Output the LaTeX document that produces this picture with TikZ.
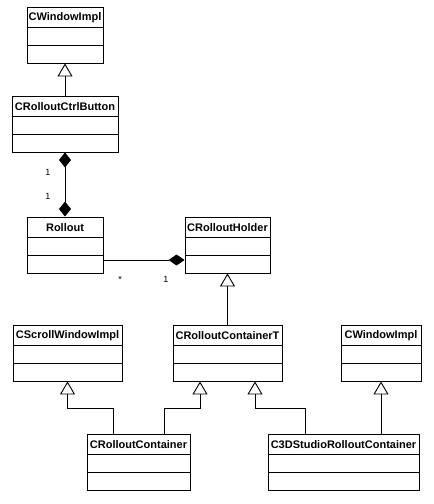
\documentclass[tikz,border=0pt]{standalone}
\usepackage{fontspec}
\setmainfont{Liberation Sans}
\usetikzlibrary{arrows.meta}
\begin{document}
\begin{tikzpicture}[
  x=1pt, y=-1pt,
  cls/.style={draw=black, line width=0.9pt, inner sep=0pt, minimum height=56pt},
  clsname/.style={anchor=north, inner sep=0pt, minimum height=21pt, font=\fontsize{11}{13}\selectfont\bfseries},
  mult/.style={font=\fontsize{9}{11}\selectfont, inner sep=0pt},
  inherit/.style={line width=0.9pt, draw=black, -{Triangle[open, length=13pt, width=15pt]}},
  comp/.style={line width=0.9pt, draw=black}
]
  \useasboundingbox (0,0) rectangle (434,504);

  % Clases
  \foreach \nm/\x/\y/\bw/\txt in {
      winA/65/35/76/CWindowImpl,
      ctrl/65/124/106/CRolloutCtrlButton,
      rollout/65/245/76/Rollout,
      holder/227.5/245/85/CRolloutHolder,
      scroll/67.5/353/109/CScrollWindowImpl,
      contT/227.5/353/109/CRolloutContainerT,
      winB/381/353/80/CWindowImpl,
      cont/138.5/462/103/CRolloutContainer,
      studio/343.5/462/151/C3DStudioRolloutContainer} {
    \node[cls, minimum width=\bw pt] (\nm) at (\x,\y) {};
    \node[clsname] at (\nm.north) {\txt};
    \draw[comp] ([yshift=-21pt]\nm.north west) -- ([yshift=-21pt]\nm.north east);
    \draw[comp] ([yshift=-39pt]\nm.north west) -- ([yshift=-39pt]\nm.north east);
  }

  % Herencia
  \draw[inherit] (ctrl.north) -- (winA.south);
  \draw[inherit] (contT.north) -- (holder.south);
  \draw[inherit] ([xshift=-25.5pt]cont.north) -- ++(0,-25) -| (scroll.south);
  \draw[inherit] ([xshift=25.5pt]cont.north) -- ++(0,-25) -| ([xshift=-27.5pt]contT.south);
  \draw[inherit] ([xshift=-38.5pt]studio.north) -- ++(0,-25) -| ([xshift=27.5pt]contT.south);
  \draw[inherit] ([xshift=37.5pt]studio.north) -- (winB.south);

  % Composicion
  \draw[comp, {Diamond[length=15pt, width=12pt]}-{Diamond[length=15pt, width=12pt]}] (ctrl.south) -- (rollout.north);
  \draw[comp, -{Diamond[length=16pt, width=11pt]}] ([yshift=-15pt]rollout.east) -- ([yshift=-15pt]holder.west);

  % Multiplicidades
  \node[mult] (m1) at (48,172) {1};
  \node[mult] (m2) at (48,196) {1};
  \node[mult] (m3) at (120,279) {*};
  \node[mult] (m4) at (166,279) {1};
\end{tikzpicture}
\end{document}
